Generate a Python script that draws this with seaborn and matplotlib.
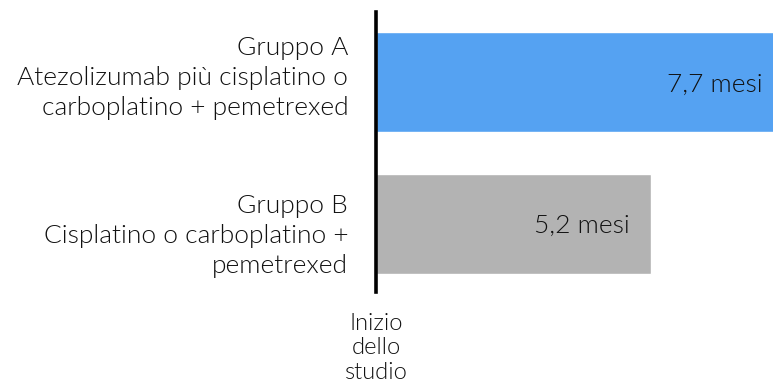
import matplotlib
matplotlib.use("Agg")
import matplotlib.pyplot as plt
import matplotlib.transforms as mtransforms
import seaborn as sns
import pandas as pd

# Progression-free survival, months
groups = [
    "Gruppo A\nAtezolizumab più cisplatino o\ncarboplatino + pemetrexed",
    "Gruppo B\nCisplatino o carboplatino +\npemetrexed",
]
months = [7.7, 5.2]
value_labels = ["7,7 mesi", "5,2 mesi"]
bar_colors = ["#55A2F2", "#B3B3B3"]
start_label = "Inizio\ndello\nstudio"

sns.set_theme(style="white")
plt.rcParams["font.family"] = ["Lato", "DejaVu Sans"]
plt.rcParams["font.weight"] = 300

df = pd.DataFrame({"gruppo": groups, "mesi": months})

fig = plt.figure(figsize=(7.73, 3.92), dpi=100)
ax = fig.add_axes([376 / 773, 1 - 292 / 392, 1 - 376 / 773, 280 / 392])

sns.barplot(data=df, y="gruppo", x="mesi", hue="gruppo", palette=bar_colors,
            orient="h", width=0.707, legend=False, ax=ax, saturation=1)

ax.set_xlim(0, 7.51)
ax.set_ylim(1.484, -0.495)
ax.set_xlabel("")
ax.set_ylabel("")
ax.set_xticks([])

for side in ["top", "right", "bottom"]:
    ax.spines[side].set_visible(False)
ax.spines["left"].set_color("black")
ax.spines["left"].set_linewidth(2.6)

ax.tick_params(axis="y", length=0, pad=20, labelsize=19, labelcolor="#111111")
# vertical nudge of each group caption, in points
label_shift = [2.7, -8.8]
for lbl, dy in zip(ax.get_yticklabels(), label_shift):
    lbl.set_linespacing(1.31)
    lbl.set_fontweight(300)
    lbl.set_verticalalignment("center")
    lbl.set_transform(lbl.get_transform() +
                      mtransforms.ScaledTranslation(0, dy / 72, fig.dpi_scale_trans))

for i, (v, txt) in enumerate(zip(months, value_labels)):
    ax.annotate(txt, xy=(v, i), xytext=(-15, 0), textcoords="offset points",
                ha="right", va="center_baseline", fontsize=19, color="#111111",
                fontweight=300, annotation_clip=False)

ax.annotate(start_label, xy=(0, 0), xycoords=("data", "axes fraction"),
            xytext=(0, -15), textcoords="offset points", ha="center", va="top",
            fontsize=17, color="#111111", linespacing=1.2, fontweight=300,
            annotation_clip=False)

fig.savefig("out.png", dpi=100)
